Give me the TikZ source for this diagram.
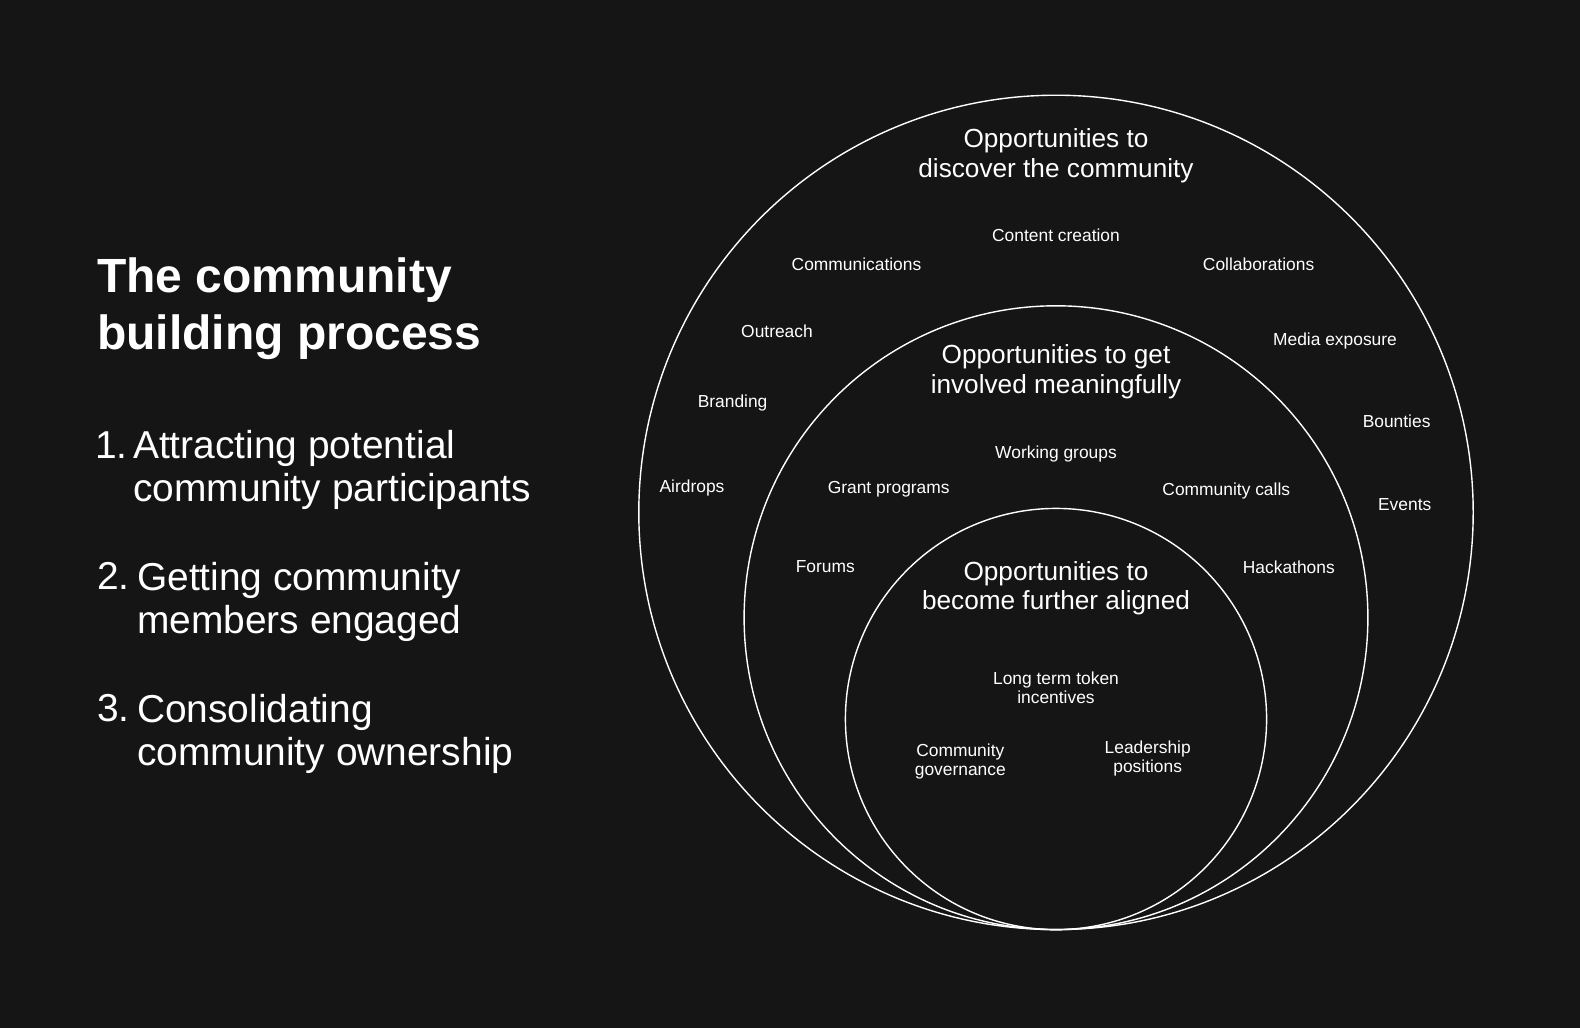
\documentclass[tikz,border=0pt]{standalone}
\usepackage{fontspec}
\setmainfont{Liberation Sans}

\definecolor{bgdark}{RGB}{21,21,21}

\begin{document}
\begin{tikzpicture}[
      x=1pt, y=-1pt,
      ring/.style={draw=white, line width=1.4pt},
      ringtitle/.style={white, align=center, inner sep=0, font=\fontsize{26.2}{29.2}\selectfont},
      item/.style={white, align=center, inner sep=0, font=\fontsize{17.4}{19.2}\selectfont},
      stepnum/.style={white, anchor=north west, inner sep=0, font=\fontsize{38.9}{43.3}\selectfont},
      steptext/.style={white, anchor=north west, align=left, inner sep=0, font=\fontsize{38.9}{43.3}\selectfont},
      ]

      \fill[bgdark] (0, 0) rectangle (1580, 1028);

      % heading and steps
      \node[white, anchor=north west, align=left, inner sep=0, font=\bfseries\fontsize{48}{56.4}\selectfont] (heading) at (97, 258) {The community\\building process};

      \node[stepnum] (num1) at (95, 432) {1.};
      \node[steptext] (step1) at (133, 430) {Attracting potential\\community participants};
      \node[stepnum] (num2) at (97, 562) {2.};
      \node[steptext] (step2) at (137, 562) {Getting community\\members engaged};
      \node[stepnum] (num3) at (97, 694) {3.};
      \node[steptext] (step3) at (137, 694) {Consolidating\\community ownership};

      % the three rings, all touching at the bottom
      \draw[ring] (1056, 512.4) circle[radius=417.2pt];
      \draw[ring] (1056, 617.7) circle[radius=311.9pt];
      \draw[ring] (1056, 719) circle[radius=210.6pt];

      % outer ring
      \node[ringtitle] (discover) at (1056, 155.7) {Opportunities to\\discover the community};
      \node[item] (content) at (1056, 235.5) {Content creation};
      \node[item] (comms) at (856.5, 264.5) {Communications};
      \node[item] (collab) at (1258.6, 264.5) {Collaborations};
      \node[item] (outreach) at (777, 331) {Outreach};
      \node[item] (media) at (1335, 341) {Media exposure};
      \node[item] (branding) at (732.6, 402.5) {Branding};
      \node[item] (bounties) at (1396.6, 421.5) {Bounties};
      \node[item] (airdrops) at (692, 487.5) {Airdrops};
      \node[item] (events) at (1404.7, 504.3) {Events};

      % middle ring
      \node[ringtitle] (involved) at (1056, 371.8) {Opportunities to get\\involved meaningfully};
      \node[item] (working) at (1056, 454) {Working groups};
      \node[item] (grants) at (888.7, 489.5) {Grant programs};
      \node[item] (calls) at (1226.3, 490.5) {Community calls};
      \node[item] (forums) at (825.3, 566.8) {Forums};
      \node[item] (hackathons) at (1288.8, 566.8) {Hackathons};

      % inner ring
      \node[ringtitle] (aligned) at (1056, 588) {Opportunities to\\become further aligned};
      \node[item] (token) at (1056, 687.5) {Long term token\\incentives};
      \node[item] (governance) at (960.3, 761.8) {Community\\governance};
      \node[item] (leadership) at (1147.7, 758.8) {Leadership\\positions};

    \end{tikzpicture}
\end{document}
